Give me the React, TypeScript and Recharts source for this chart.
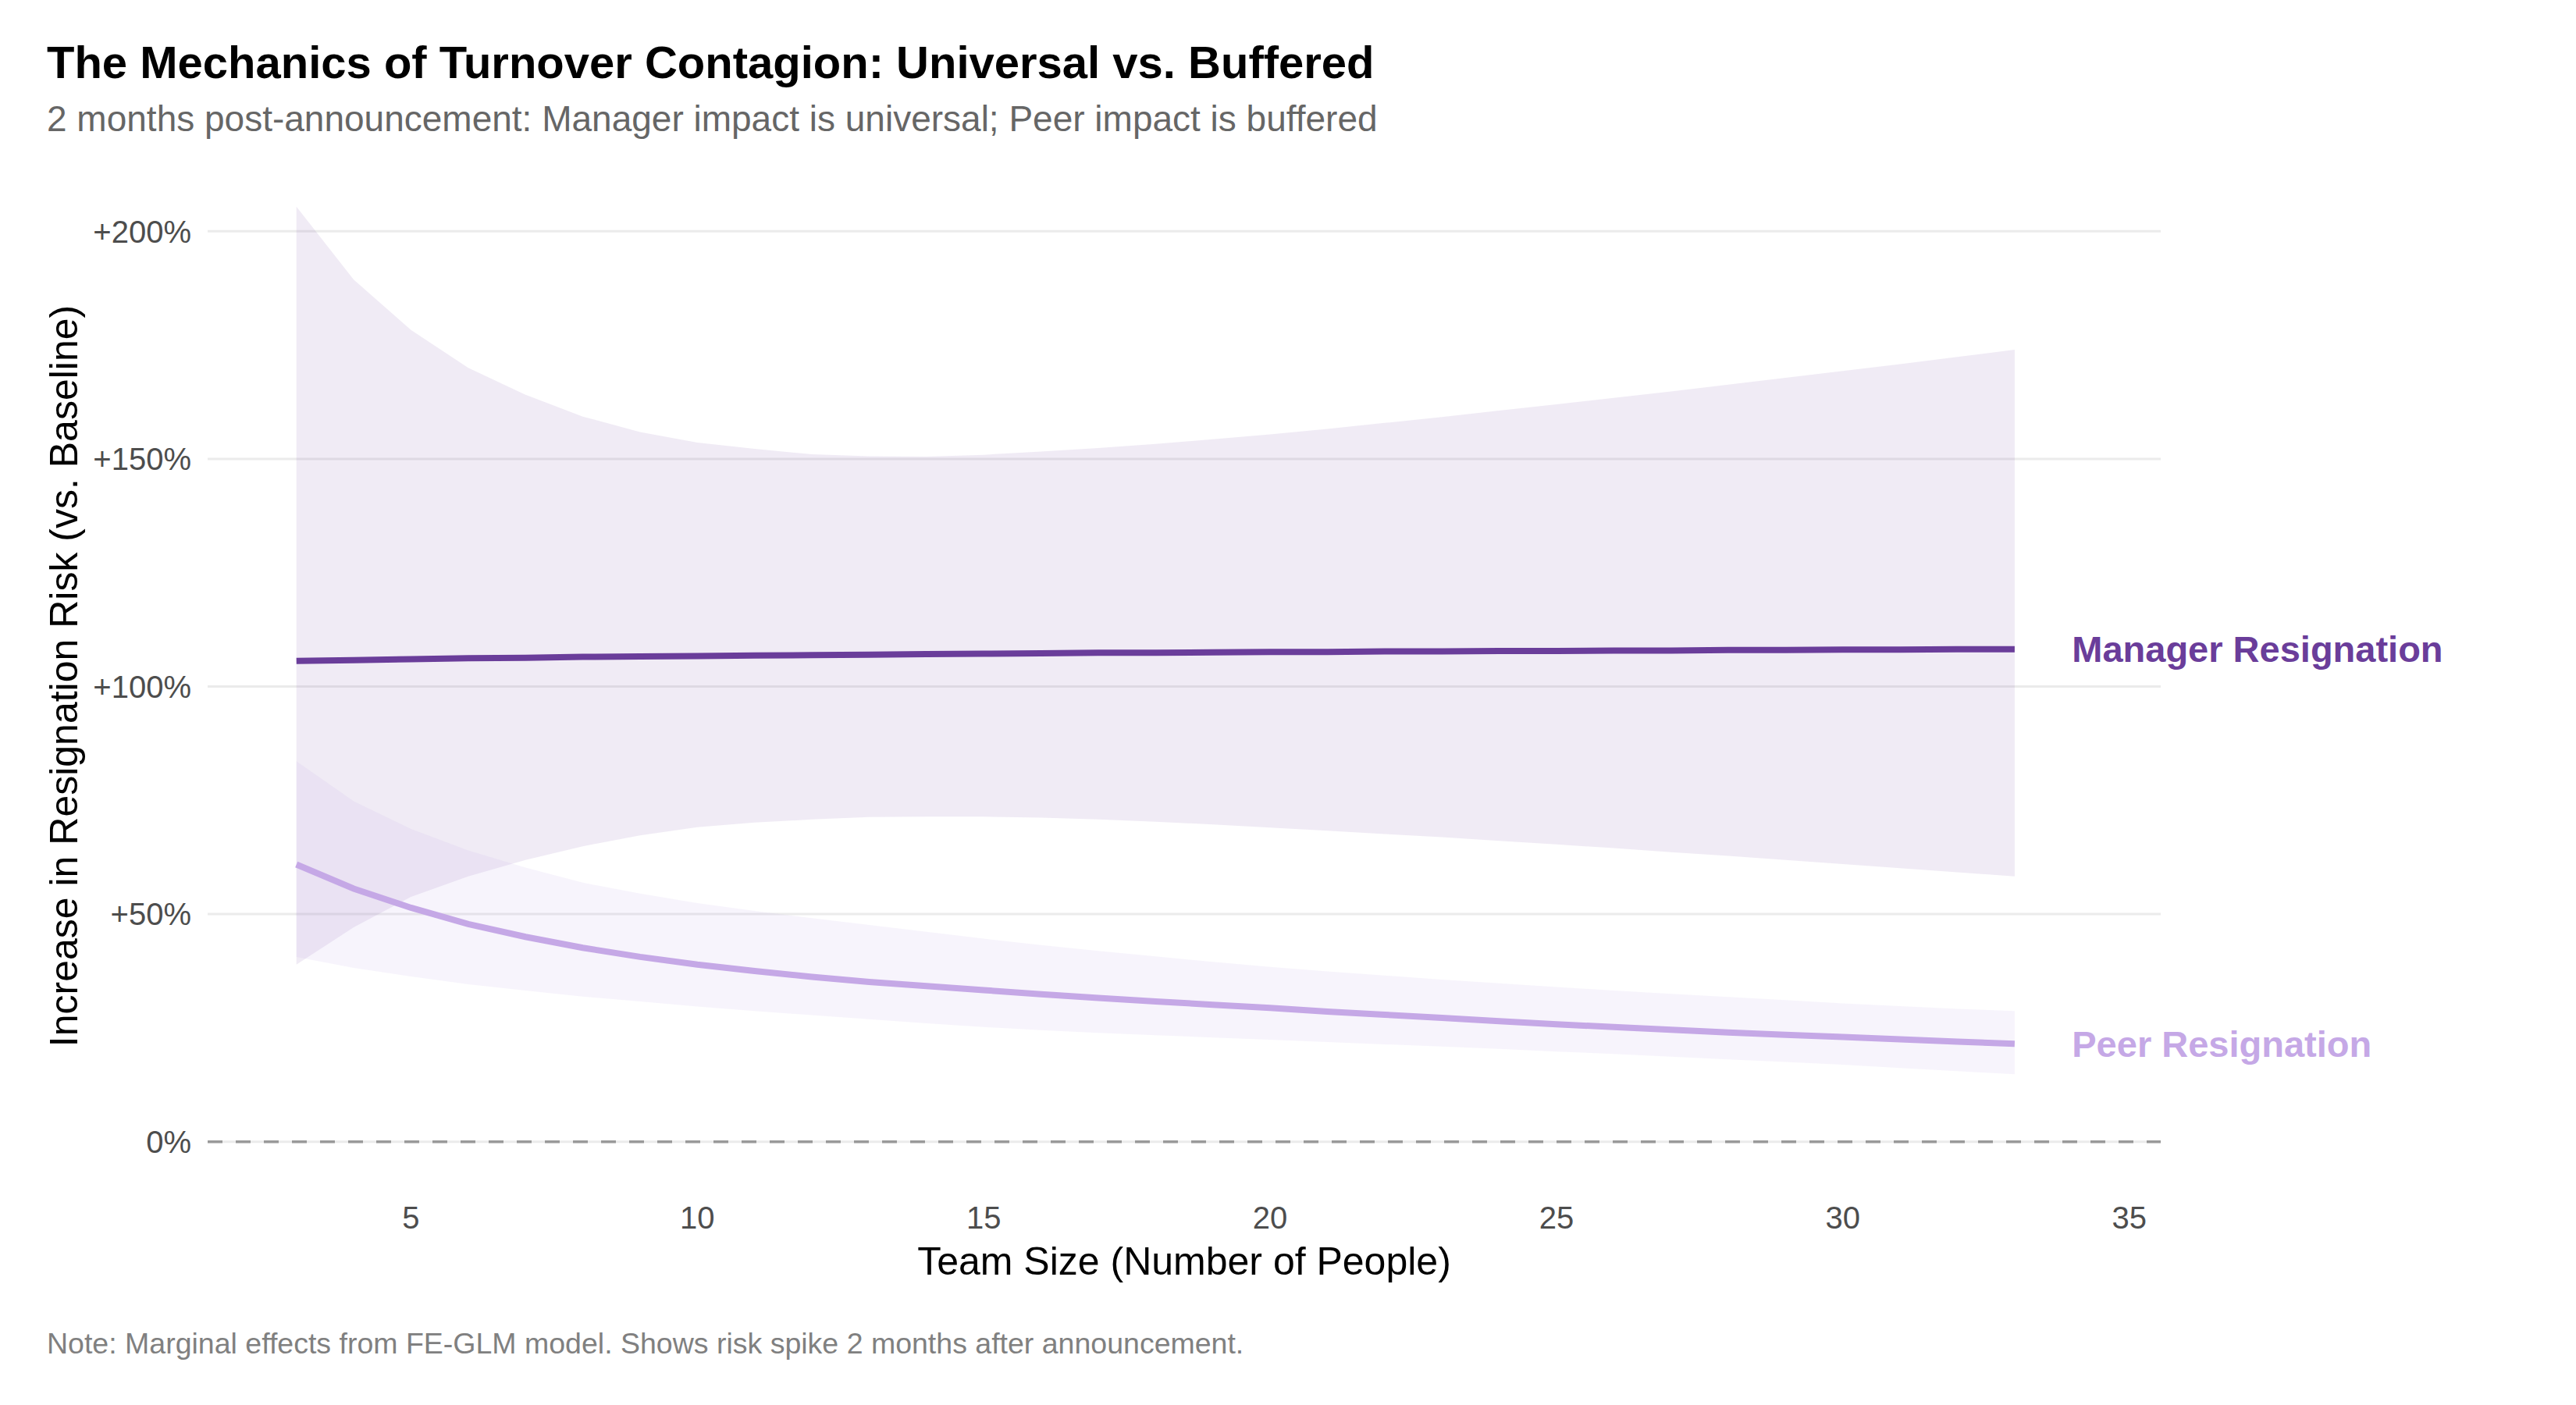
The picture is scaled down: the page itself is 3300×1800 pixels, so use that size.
import { ComposedChart, Area, Line, XAxis, YAxis, CartesianGrid, ReferenceLine, ReferenceDot } from 'recharts';

const teamSize = [3, 4, 5, 6, 7, 8, 9, 10, 11, 12, 13, 14, 15, 16, 17, 18, 19, 20, 21, 22, 23, 24, 25, 26, 27, 28, 29, 30, 31, 32, 33];

const managerEffect = [105.6, 105.8, 106.0, 106.2, 106.3, 106.5, 106.6, 106.7, 106.8, 106.9, 107.0, 107.1, 107.2, 107.3, 107.4, 107.4, 107.5, 107.6, 107.6, 107.7, 107.7, 107.8, 107.8, 107.9, 107.9, 108.0, 108.0, 108.1, 108.1, 108.2, 108.2];
const managerUpper = [205.4, 189.4, 178.3, 170.0, 164.1, 159.3, 155.9, 153.6, 152.2, 151.0, 150.6, 150.5, 150.9, 151.6, 152.4, 153.3, 154.3, 155.4, 156.6, 157.9, 159.2, 160.6, 162.0, 163.4, 164.8, 166.3, 167.8, 169.3, 170.8, 172.4, 174.0];
const managerLower = [38.9, 47.1, 53.8, 58.3, 61.9, 64.9, 67.3, 69.1, 70.1, 70.8, 71.3, 71.4, 71.4, 71.2, 70.8, 70.3, 69.7, 69.0, 68.3, 67.6, 66.9, 66.1, 65.3, 64.5, 63.6, 62.8, 61.9, 61.0, 60.1, 59.2, 58.3];

const peerEffect = [60.9, 55.6, 51.4, 47.8, 45.0, 42.6, 40.6, 38.9, 37.5, 36.2, 35.1, 34.2, 33.3, 32.4, 31.6, 30.8, 30.1, 29.4, 28.6, 27.9, 27.2, 26.5, 25.8, 25.2, 24.6, 24.0, 23.5, 23.0, 22.5, 22.0, 21.5];
const peerUpper = [83.6, 74.8, 68.7, 64.0, 60.2, 56.9, 54.5, 52.4, 50.7, 49.1, 47.6, 46.1, 44.6, 43.2, 41.9, 40.7, 39.5, 38.4, 37.4, 36.5, 35.6, 34.8, 34.0, 33.2, 32.5, 31.8, 31.1, 30.4, 29.8, 29.2, 28.7];
const peerLower = [40.6, 38.2, 36.3, 34.6, 33.2, 31.9, 30.8, 29.7, 28.7, 27.8, 26.9, 26.0, 25.2, 24.5, 23.9, 23.4, 22.9, 22.4, 21.9, 21.4, 20.9, 20.4, 19.8, 19.3, 18.7, 18.1, 17.5, 16.9, 16.2, 15.5, 14.8];

const xTicks = [5, 10, 15, 20, 25, 30, 35];
const yTicks = [0, 50, 100, 150, 200];
const labelX = 34;

const MANAGER = '#6a3d9a';
const PEER = '#c5a8e6';
const FONT = '"Liberation Sans", Arial, sans-serif';

const data = teamSize.map((x, i) => ({
  x,
  manager: managerEffect[i],
  managerBand: [managerLower[i], managerUpper[i]],
  peer: peerEffect[i],
  peerBand: [peerLower[i], peerUpper[i]],
}));

const fmtPct = (v: number) => (v === 0 ? '0%' : `+${v}%`);

export default function App() {
  return (
    <div style={{ position: 'absolute', left: 0, top: 0, width: 3300, height: 1800, background: '#fff', overflow: 'hidden' }}>
      <div style={{ position: 'absolute', left: 0, top: 0 }}>
        <ComposedChart
          width={3300}
          height={1601}
          data={data}
          margin={{ top: 203, right: 532, bottom: 0, left: 0 }}
        >
          <CartesianGrid vertical={false} horizontalValues={yTicks} stroke="#ebebeb" strokeWidth={3} />
          <XAxis
            dataKey="x"
            type="number"
            domain={[1.45, 35.55]}
            ticks={xTicks}
            height={80}
            axisLine={false}
            tickLine={false}
            tickSize={0}
            tickMargin={25}
            tick={{ fontSize: 40, fill: '#4d4d4d', fontFamily: FONT }}
          />
          <YAxis
            type="number"
            domain={[-10, 216]}
            ticks={yTicks}
            width={266}
            axisLine={false}
            tickLine={false}
            tickSize={0}
            tickMargin={21}
            tickFormatter={fmtPct}
            tick={{ fontSize: 40, fill: '#4d4d4d', fontFamily: FONT }}
          />
          <ReferenceLine y={0} stroke="#9a9a9a" strokeWidth={3.5} strokeDasharray="19 17" />
          <Area
            dataKey="managerBand"
            type="linear"
            stroke="none"
            fill={MANAGER}
            fillOpacity={0.1}
            dot={false}
            activeDot={false}
            isAnimationActive={false}
          />
          <Area
            dataKey="peerBand"
            type="linear"
            stroke="none"
            fill={PEER}
            fillOpacity={0.13}
            dot={false}
            activeDot={false}
            isAnimationActive={false}
          />
          <Line
            dataKey="peer"
            type="linear"
            stroke={PEER}
            strokeWidth={8}
            dot={false}
            activeDot={false}
            isAnimationActive={false}
          />
          <Line
            dataKey="manager"
            type="linear"
            stroke={MANAGER}
            strokeWidth={8}
            dot={false}
            activeDot={false}
            isAnimationActive={false}
          />
          <ReferenceDot
            x={labelX}
            y={managerEffect[managerEffect.length - 1]}
            r={0}
            fill="none"
            stroke="none"
            label={{ value: 'Manager Resignation', position: 'right', offset: 0, fill: MANAGER, fontSize: 47, fontWeight: 700, fontFamily: FONT }}
          />
          <ReferenceDot
            x={labelX}
            y={peerEffect[peerEffect.length - 1]}
            r={0}
            fill="none"
            stroke="none"
            label={{ value: 'Peer Resignation', position: 'right', offset: 0, fill: PEER, fontSize: 47, fontWeight: 700, fontFamily: FONT }}
          />
        </ComposedChart>
      </div>
      <svg
        width={3300}
        height={1800}
        style={{ position: 'absolute', left: 0, top: 0, pointerEvents: 'none' }}
        fontFamily={FONT}
      >
        <text x={60} y={100} fontSize={58} fontWeight={700} fill="#000">
          The Mechanics of Turnover Contagion: Universal vs. Buffered
        </text>
        <text x={60} y={168} fontSize={46} fill="#666666">
          2 months post-announcement: Manager impact is universal; Peer impact is buffered
        </text>
        <text x={1517} y={1633} fontSize={50} fill="#000" textAnchor="middle">
          Team Size (Number of People)
        </text>
        <text x={99} y={866} fontSize={50} fill="#000" textAnchor="middle" transform="rotate(-90 99 866)">
          Increase in Resignation Risk (vs. Baseline)
        </text>
        <text x={60} y={1734} fontSize={37.5} fill="#808080">
          Note: Marginal effects from FE-GLM model. Shows risk spike 2 months after announcement.
        </text>
      </svg>
    </div>
  );
}
